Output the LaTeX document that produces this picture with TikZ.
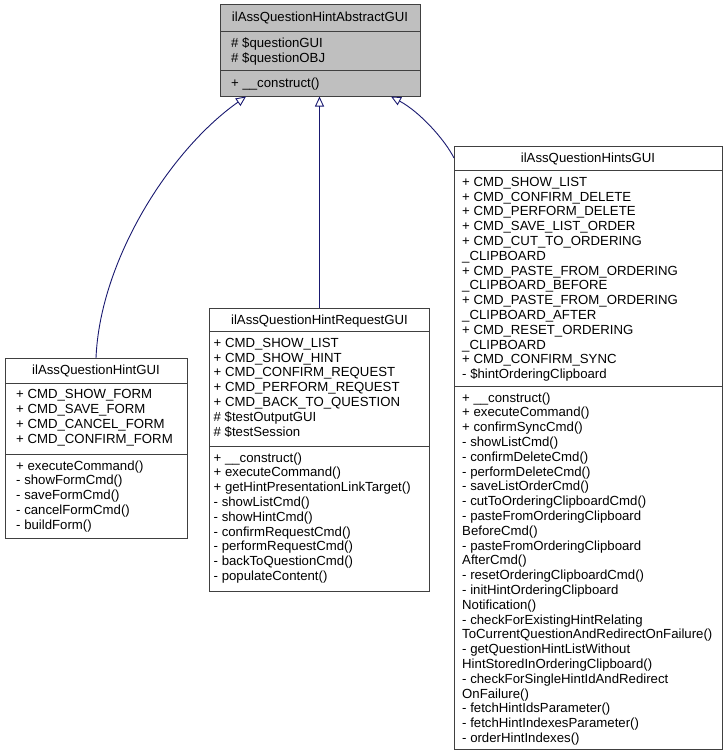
\documentclass[tikz,border=0pt]{standalone}
\usepackage{fontspec}
\setmainfont{Liberation Sans}
\usetikzlibrary{arrows.meta}
\definecolor{edgeblue}{RGB}{25,25,112}
\definecolor{boxline}{RGB}{64,64,64}
\definecolor{basefill}{RGB}{191,191,191}
\newcommand{\memberfont}{\fontsize{13.2}{14.8}\selectfont}
\begin{document}
\begin{tikzpicture}[x=1pt,y=-1pt,
		classbox/.style={draw=boxline,line width=1pt,anchor=north west,inner sep=0pt,outer sep=0pt},
		sepline/.style={draw=boxline,line width=1pt},
		member/.style={anchor=north west,inner sep=0pt,align=left,font=\memberfont,execute at begin node=\strut},
		classname/.style={anchor=base,inner sep=0pt,font=\memberfont},
		inherit/.style={draw=edgeblue,line width=0.9pt,-{Triangle[open,length=10pt,width=9pt]}}]
			\useasboundingbox (0,0) rectangle (727,756);
			\node[classbox,fill=basefill,minimum width=200pt,minimum height=92pt] (abstract) at (220,4.5) {};
			\draw[sepline] (220,31.5) -- (420,31.5);
			\draw[sepline] (220,70.5) -- (420,70.5);
			\node[classname] (abstractname) at (320,21.5) {ilAssQuestionHintAbstractGUI};
			\node[member] (abstractattr) at (231,37.9)
				{\# \$questionGUI\\\# \$questionOBJ};
			\node[member] (abstractop) at (231,76.9)
				{+ \_\_construct()};
			\node[classbox,minimum width=182pt,minimum height=180pt] (hintgui) at (5,358) {};
			\draw[sepline] (5,383) -- (187,383);
			\draw[sepline] (5,454) -- (187,454);
			\node[classname] (hintguiname) at (96,374.8) {ilAssQuestionHintGUI};
			\node[member] (hintguiattr) at (16,389.4)
				{+ CMD\_SHOW\_FORM\\+ CMD\_SAVE\_FORM\\+ CMD\_CANCEL\_FORM\\+ CMD\_CONFIRM\_FORM};
			\node[member] (hintguiop) at (16,460.4)
				{+ executeCommand()\\- showFormCmd()\\- saveFormCmd()\\- cancelFormCmd()\\- buildForm()};
			\node[classbox,minimum width=220pt,minimum height=283pt] (request) at (209.5,308) {};
			\draw[sepline] (209.5,331.5) -- (429.5,331.5);
			\draw[sepline] (209.5,446) -- (429.5,446);
			\node[classname] (requestname) at (319.5,324.8) {ilAssQuestionHintRequestGUI};
			\node[member] (requestattr) at (213.5,337.9)
				{+ CMD\_SHOW\_LIST\\+ CMD\_SHOW\_HINT\\+ CMD\_CONFIRM\_REQUEST\\+ CMD\_PERFORM\_REQUEST\\+ CMD\_BACK\_TO\_QUESTION\\\# \$testOutputGUI\\\# \$testSession};
			\node[member] (requestop) at (213.5,452.4)
				{+ \_\_construct()\\+ executeCommand()\\+ getHintPresentationLinkTarget()\\- showListCmd()\\- showHintCmd()\\- confirmRequestCmd()\\- performRequestCmd()\\- backToQuestionCmd()\\- populateContent()};
			\node[classbox,minimum width=268pt,minimum height=603.5pt] (hints) at (454,146) {};
			\draw[sepline] (454,170.5) -- (722,170.5);
			\draw[sepline] (454,386) -- (722,386);
			\node[classname] (hintsname) at (588,162.3) {ilAssQuestionHintsGUI};
			\node[member] (hintsattr) at (462,176.9)
				{+ CMD\_SHOW\_LIST\\+ CMD\_CONFIRM\_DELETE\\+ CMD\_PERFORM\_DELETE\\+ CMD\_SAVE\_LIST\_ORDER\\+ CMD\_CUT\_TO\_ORDERING\\\_CLIPBOARD\\+ CMD\_PASTE\_FROM\_ORDERING\\\_CLIPBOARD\_BEFORE\\+ CMD\_PASTE\_FROM\_ORDERING\\\_CLIPBOARD\_AFTER\\+ CMD\_RESET\_ORDERING\\\_CLIPBOARD\\+ CMD\_CONFIRM\_SYNC\\- \$hintOrderingClipboard};
			\node[member] (hintsop) at (462,392.4)
				{+ \_\_construct()\\+ executeCommand()\\+ confirmSyncCmd()\\- showListCmd()\\- confirmDeleteCmd()\\- performDeleteCmd()\\- saveListOrderCmd()\\- cutToOrderingClipboardCmd()\\- pasteFromOrderingClipboard\\BeforeCmd()\\- pasteFromOrderingClipboard\\AfterCmd()\\- resetOrderingClipboardCmd()\\- initHintOrderingClipboard\\Notification()\\- checkForExistingHintRelating\\ToCurrentQuestionAndRedirectOnFailure()\\- getQuestionHintListWithout\\HintStoredInOrderingClipboard()\\- checkForSingleHintIdAndRedirect\\OnFailure()\\- fetchHintIdsParameter()\\- fetchHintIndexesParameter()\\- orderHintIndexes()};
			\draw[inherit] (hintgui.north) .. controls (100,260) and (170,150) .. ([xshift=26pt]abstract.south west);
			\draw[inherit] (request.north) -- (request.north |- abstract.south);
			\draw[inherit] ([yshift=-12pt]hints.north west) .. controls (445,140) and (420,112) .. ([xshift=-29pt]abstract.south east);
\end{tikzpicture}
\end{document}
